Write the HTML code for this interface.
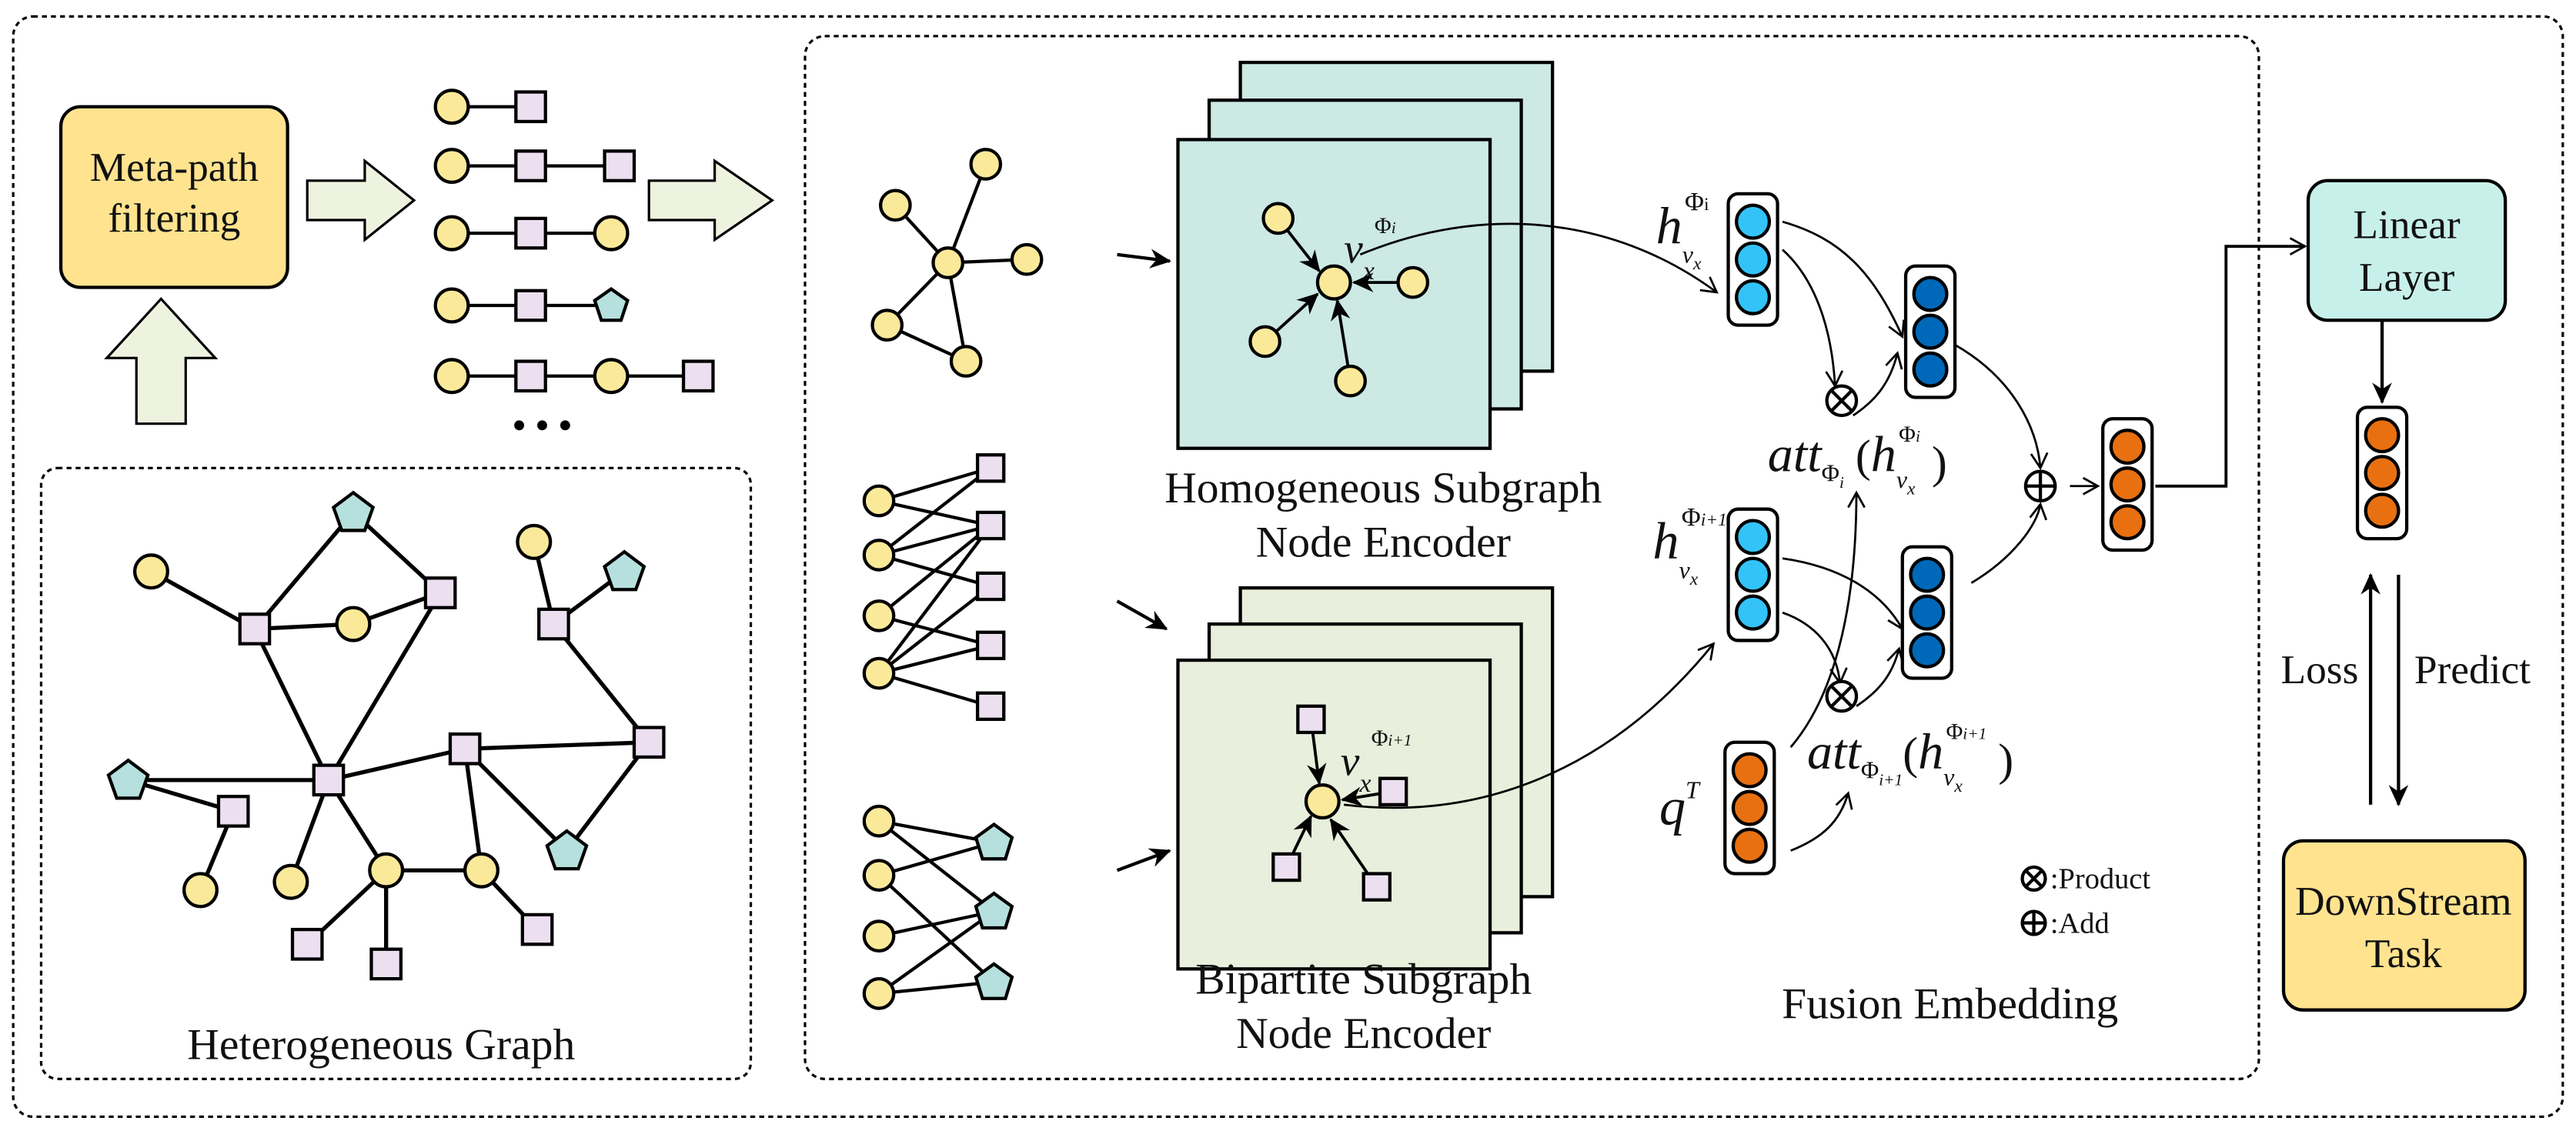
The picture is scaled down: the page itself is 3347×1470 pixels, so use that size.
<!DOCTYPE html>
<html><head><meta charset="utf-8"><style>
html,body{margin:0;padding:0;background:#fff}
svg{display:block}
text{font-family:"Liberation Serif","Times New Roman",serif;fill:#111}
</style></head><body>
<svg width="3347" height="1470" viewBox="0 0 1568 688.7" xmlns="http://www.w3.org/2000/svg" font-family="Liberation Serif, serif">
<defs>
<marker id="a" markerWidth="12" markerHeight="12" refX="10" refY="6" orient="auto" markerUnits="userSpaceOnUse"><path d="M1,1 L10,6 L1,11" fill="none" stroke="#000" stroke-width="1.3"/></marker>
<marker id="f" markerWidth="14" markerHeight="14" refX="12" refY="7" orient="auto" markerUnits="userSpaceOnUse"><path d="M0,1 L13,7 L0,13 L4,7 Z" fill="#000"/></marker>
</defs>
<g fill="none" stroke="#000" stroke-width="1.5" stroke-dasharray="3,2.5">
<rect x="8" y="10" width="1552" height="670" rx="12"/>
<rect x="25" y="285" width="432" height="372" rx="10"/>
<rect x="490" y="22" width="885" height="635" rx="12"/>
</g>
<rect x="37" y="65" width="138" height="110" rx="12" fill="#ffe38f" stroke="#000" stroke-width="2"/>
<text x="106" y="110" font-size="25" text-anchor="middle">Meta-path</text>
<text x="106" y="141" font-size="25" text-anchor="middle">filtering</text>
<g fill="#eef3e0" stroke="#000" stroke-width="1.5">
<path d="M187,110 L222,110 L222,98 L252,122 L222,146 L222,134 L187,134 Z"/>
<path d="M395,110 L435,110 L435,98 L470,122 L435,146 L435,134 L395,134 Z"/>
<path d="M83,258 L83,218 L65,218 L98,182 L131,218 L113,218 L113,258 Z"/>
</g>
<g stroke="#000" stroke-width="2">
<line x1="275" y1="65" x2="323" y2="65"/><line x1="275" y1="101" x2="377" y2="101"/>
<line x1="275" y1="142" x2="372" y2="142"/><line x1="275" y1="186" x2="372" y2="186"/>
<line x1="275" y1="229" x2="425" y2="229"/>
</g>
<g stroke="#000" stroke-width="2" fill="#fbe99a">
<circle cx="275" cy="65" r="10"/><circle cx="275" cy="101" r="10"/><circle cx="275" cy="142" r="10"/><circle cx="275" cy="186" r="10"/><circle cx="275" cy="229" r="10"/>
<circle cx="372" cy="142" r="10"/><circle cx="372" cy="229" r="10"/>
</g>
<g stroke="#000" stroke-width="2" fill="#ecdff0">
<rect x="314" y="56" width="18" height="18"/><rect x="314" y="92" width="18" height="18"/><rect x="368" y="92" width="18" height="18"/>
<rect x="314" y="133" width="18" height="18"/><rect x="314" y="177" width="18" height="18"/><rect x="314" y="220" width="18" height="18"/><rect x="416" y="220" width="18" height="18"/>
</g>
<polygon points="372,176 382,183 378,195 366,195 362,183" fill="#b5e0de" stroke="#000" stroke-width="2"/>
<g fill="#000"><circle cx="316" cy="259" r="3"/><circle cx="330" cy="259" r="3"/><circle cx="344" cy="259" r="3"/></g>
<g stroke="#000" stroke-width="2.5">
<line x1="92" y1="348" x2="155" y2="383"/><line x1="155" y1="383" x2="215" y2="380"/><line x1="215" y1="380" x2="268" y2="361"/>
<line x1="155" y1="383" x2="215" y2="312"/><line x1="215" y1="312" x2="268" y2="361"/>
<line x1="155" y1="383" x2="200" y2="475"/><line x1="268" y1="361" x2="200" y2="475"/>
<line x1="325" y1="330" x2="337" y2="380"/><line x1="380" y1="348" x2="337" y2="380"/><line x1="337" y1="380" x2="395" y2="452"/>
<line x1="395" y1="452" x2="345" y2="518"/><line x1="283" y1="456" x2="345" y2="518"/><line x1="283" y1="456" x2="395" y2="452"/>
<line x1="200" y1="475" x2="283" y2="456"/><line x1="78" y1="475" x2="200" y2="475"/><line x1="78" y1="475" x2="142" y2="494"/>
<line x1="142" y1="494" x2="122" y2="542"/><line x1="200" y1="475" x2="177" y2="537"/><line x1="200" y1="475" x2="235" y2="530"/>
<line x1="235" y1="530" x2="187" y2="575"/><line x1="235" y1="530" x2="235" y2="587"/><line x1="235" y1="530" x2="293" y2="530"/>
<line x1="283" y1="456" x2="293" y2="530"/><line x1="293" y1="530" x2="327" y2="566"/>
</g>
<g stroke="#000" stroke-width="2" fill="#fbe99a">
<circle cx="92" cy="348" r="10"/><circle cx="215" cy="380" r="10"/><circle cx="325" cy="330" r="10"/><circle cx="177" cy="537" r="10"/>
<circle cx="235" cy="530" r="10"/><circle cx="293" cy="530" r="10"/><circle cx="122" cy="542" r="10"/>
</g>
<g stroke="#000" stroke-width="2" fill="#ecdff0">
<rect x="146" y="374" width="18" height="18"/><rect x="259" y="352" width="18" height="18"/><rect x="328" y="371" width="18" height="18"/>
<rect x="386" y="443" width="18" height="18"/><rect x="274" y="447" width="18" height="18"/><rect x="191" y="466" width="18" height="18"/>
<rect x="133" y="485" width="18" height="18"/><rect x="178" y="566" width="18" height="18"/><rect x="226" y="578" width="18" height="18"/><rect x="318" y="557" width="18" height="18"/>
</g>
<g stroke="#000" stroke-width="2" fill="#b5e0de">
<polygon points="215,300 227,309 222,323 208,323 203,309"/><polygon points="380,336 392,345 387,359 373,359 368,345"/>
<polygon points="78,463 90,472 85,486 71,486 66,472"/><polygon points="345,506 357,515 352,529 338,529 333,515"/>
</g>
<text x="232" y="645" font-size="27" text-anchor="middle">Heterogeneous Graph</text>
<g stroke="#000" stroke-width="2">
<line x1="545" y1="125" x2="577" y2="160"/><line x1="600" y1="100" x2="577" y2="160"/><line x1="577" y1="160" x2="625" y2="158"/>
<line x1="577" y1="160" x2="540" y2="198"/><line x1="577" y1="160" x2="588" y2="220"/><line x1="540" y1="198" x2="588" y2="220"/>
<line x1="535" y1="305" x2="603" y2="285"/><line x1="535" y1="305" x2="603" y2="320"/><line x1="535" y1="338" x2="603" y2="320"/>
<line x1="535" y1="338" x2="603" y2="357"/><line x1="535" y1="375" x2="603" y2="320"/><line x1="535" y1="410" x2="603" y2="320"/>
<line x1="535" y1="410" x2="603" y2="357"/><line x1="535" y1="410" x2="603" y2="393"/><line x1="535" y1="410" x2="603" y2="430"/>
<line x1="535" y1="375" x2="603" y2="393"/><line x1="535" y1="338" x2="603" y2="285"/>
<line x1="535" y1="500" x2="605" y2="513"/><line x1="535" y1="533" x2="605" y2="513"/><line x1="535" y1="533" x2="605" y2="598"/>
<line x1="535" y1="570" x2="605" y2="555"/><line x1="535" y1="605" x2="605" y2="555"/><line x1="535" y1="605" x2="605" y2="598"/><line x1="535" y1="500" x2="605" y2="555"/>
</g>
<g stroke="#000" stroke-width="2" fill="#fbe99a">
<circle cx="600" cy="100" r="9"/><circle cx="545" cy="125" r="9"/><circle cx="577" cy="160" r="9"/><circle cx="625" cy="158" r="9"/><circle cx="540" cy="198" r="9"/><circle cx="588" cy="220" r="9"/>
<circle cx="535" cy="305" r="9"/><circle cx="535" cy="338" r="9"/><circle cx="535" cy="375" r="9"/><circle cx="535" cy="410" r="9"/>
<circle cx="535" cy="500" r="9"/><circle cx="535" cy="533" r="9"/><circle cx="535" cy="570" r="9"/><circle cx="535" cy="605" r="9"/>
</g>
<g stroke="#000" stroke-width="2" fill="#ecdff0">
<rect x="595" y="277" width="16" height="16"/><rect x="595" y="312" width="16" height="16"/><rect x="595" y="349" width="16" height="16"/><rect x="595" y="385" width="16" height="16"/><rect x="595" y="422" width="16" height="16"/>
</g>
<g stroke="#000" stroke-width="2" fill="#b5e0de">
<polygon points="605,502 616,510 612,523 598,523 594,510"/><polygon points="605,544 616,552 612,565 598,565 594,552"/><polygon points="605,587 616,595 612,608 598,608 594,595"/>
</g>
<g stroke="#000" stroke-width="2">
<line x1="680" y1="155" x2="712" y2="159" marker-end="url(#f)"/><line x1="680" y1="366" x2="710" y2="383" marker-end="url(#f)"/><line x1="680" y1="530" x2="712" y2="518" marker-end="url(#f)"/>
</g>
<g stroke="#000" stroke-width="2" fill="#cce9e4">
<rect x="755" y="38" width="190" height="188"/><rect x="736" y="61" width="190" height="188"/><rect x="717" y="85" width="190" height="188"/>
</g>
<g stroke="#000" stroke-width="2" fill="#e8efdc">
<rect x="755" y="358" width="190" height="188"/><rect x="736" y="380" width="190" height="188"/><rect x="717" y="402" width="190" height="188"/>
</g>
<g stroke="#000" stroke-width="1.8">
<line x1="778" y1="133" x2="803" y2="165" marker-end="url(#f)"/><line x1="770" y1="208" x2="802" y2="179" marker-end="url(#f)"/>
<line x1="822" y1="232" x2="814" y2="183" marker-end="url(#f)"/><line x1="860" y1="172" x2="824" y2="172" marker-end="url(#f)"/>
<line x1="798" y1="438" x2="803" y2="477" marker-end="url(#f)"/><line x1="848" y1="482" x2="817" y2="487" marker-end="url(#f)"/>
<line x1="783" y1="528" x2="798" y2="497" marker-end="url(#f)"/><line x1="838" y1="540" x2="810" y2="499" marker-end="url(#f)"/>
</g>
<g stroke="#000" stroke-width="2" fill="#fbe99a">
<circle cx="812" cy="172" r="10"/><circle cx="778" cy="133" r="9"/><circle cx="770" cy="208" r="9"/><circle cx="822" cy="232" r="9"/><circle cx="860" cy="172" r="9"/>
<circle cx="805" cy="488" r="10"/>
</g>
<g stroke="#000" stroke-width="2" fill="#ecdff0">
<rect x="790" y="430" width="16" height="16"/><rect x="840" y="474" width="16" height="16"/><rect x="775" y="520" width="16" height="16"/><rect x="830" y="532" width="16" height="16"/>
</g>
<text x="818" y="160" font-size="26" font-style="italic">v<tspan font-size="16" dy="10">x</tspan><tspan font-size="14" dy="-28" font-style="normal">Φ</tspan><tspan font-size="10">i</tspan></text>
<text x="816" y="472" font-size="26" font-style="italic">v<tspan font-size="16" dy="10">x</tspan><tspan font-size="14" dy="-28" font-style="normal">Φ</tspan><tspan font-size="10">i+1</tspan></text>
<text x="842" y="306" font-size="27" text-anchor="middle">Homogeneous Subgraph</text>
<text x="842" y="339" font-size="27" text-anchor="middle">Node Encoder</text>
<text x="830" y="605" font-size="27" text-anchor="middle">Bipartite Subgraph</text>
<text x="830" y="638" font-size="27" text-anchor="middle">Node Encoder</text>
<g fill="none" stroke="#000" stroke-width="1.3">
<path d="M828,155 C900,125 980,130 1045,178" marker-end="url(#a)"/>
<path d="M818,490 C900,500 980,470 1043,392" marker-end="url(#a)"/>
<path d="M1085,152 C1105,170 1115,200 1117,235" marker-end="url(#a)"/>
<path d="M1085,135 C1120,145 1140,165 1158,205" marker-end="url(#a)"/>
<path d="M1128,253 C1140,245 1150,235 1155,215" marker-end="url(#a)"/>
<path d="M1190,210 C1225,230 1240,260 1242,285" marker-end="url(#a)"/>
<path d="M1200,355 C1225,340 1240,320 1242,307" marker-end="url(#a)"/>
<path d="M1260,296 L1277,296" marker-end="url(#a)"/>
<path d="M1085,340 C1120,345 1145,360 1158,383" marker-end="url(#a)"/>
<path d="M1085,373 C1105,380 1118,395 1120,416" marker-end="url(#a)"/>
<path d="M1130,430 C1145,420 1152,410 1156,395" marker-end="url(#a)"/>
<path d="M1090,455 C1120,420 1130,360 1130,300" marker-end="url(#a)"/>
<path d="M1090,518 C1110,510 1120,500 1125,483" marker-end="url(#a)"/>
</g>
<g stroke="#000" stroke-width="2">
<rect x="1052" y="118" width="30" height="80" rx="6" fill="#fff"/>
<rect x="1160" y="162" width="30" height="80" rx="6" fill="#fff"/>
<rect x="1052" y="310" width="30" height="80" rx="6" fill="#fff"/>
<rect x="1158" y="333" width="30" height="80" rx="6" fill="#fff"/>
<rect x="1050" y="452" width="30" height="80" rx="6" fill="#fff"/>
<rect x="1280" y="255" width="30" height="80" rx="6" fill="#fff"/>
<rect x="1435" y="248" width="30" height="80" rx="6" fill="#fff"/>
<g fill="#33c3f8"><circle cx="1067" cy="135" r="10"/><circle cx="1067" cy="158" r="10"/><circle cx="1067" cy="181" r="10"/>
<circle cx="1067" cy="327" r="10"/><circle cx="1067" cy="350" r="10"/><circle cx="1067" cy="373" r="10"/></g>
<g fill="#0068b8"><circle cx="1175" cy="179" r="10"/><circle cx="1175" cy="202" r="10"/><circle cx="1175" cy="225" r="10"/>
<circle cx="1173" cy="350" r="10"/><circle cx="1173" cy="373" r="10"/><circle cx="1173" cy="396" r="10"/></g>
<g fill="#e87010"><circle cx="1065" cy="469" r="10"/><circle cx="1065" cy="492" r="10"/><circle cx="1065" cy="515" r="10"/>
<circle cx="1295" cy="272" r="10"/><circle cx="1295" cy="295" r="10"/><circle cx="1295" cy="318" r="10"/>
<circle cx="1450" cy="265" r="10"/><circle cx="1450" cy="288" r="10"/><circle cx="1450" cy="311" r="10"/></g>
</g>
<g stroke="#000" stroke-width="2" fill="#fff">
<circle cx="1121" cy="244" r="9"/><path d="M1115,238 L1127,250 M1127,238 L1115,250"/>
<circle cx="1121" cy="424" r="9"/><path d="M1115,418 L1127,430 M1127,418 L1115,430"/>
<circle cx="1242" cy="296" r="9"/><path d="M1233,296 L1251,296 M1242,287 L1242,305"/>
<circle cx="1238" cy="535" r="7"/><path d="M1233,530 L1243,540 M1243,530 L1233,540"/>
<circle cx="1238" cy="562" r="7"/><path d="M1231,562 L1245,562 M1238,555 L1238,569"/>
</g>
<text x="1248" y="541" font-size="18">:Product</text>
<text x="1248" y="568" font-size="18">:Add</text>
<g font-style="italic">
<text x="1008" y="148" font-size="32">h<tspan font-size="15" dy="12">v</tspan><tspan font-size="11" dy="4">x</tspan><tspan font-size="16" dy="-36" dx="-10" font-style="normal">Φ</tspan><tspan font-size="11" font-style="normal">i</tspan></text>
<text x="1006" y="340" font-size="32">h<tspan font-size="15" dy="12">v</tspan><tspan font-size="11" dy="4">x</tspan><tspan font-size="16" dy="-36" dx="-10" font-style="normal">Φ</tspan><tspan font-size="11">i+1</tspan></text>
<text x="1010" y="502" font-size="32">q<tspan font-size="15" dy="-16">T</tspan></text>
<text x="1076" y="287" font-size="31">att<tspan font-size="15" dy="6" font-style="normal">Φ</tspan><tspan font-size="10" dy="4">i</tspan><tspan font-style="normal" dy="-10" font-size="28"> (</tspan>h<tspan font-size="15" dy="10">v</tspan><tspan font-size="11" dy="4">x</tspan><tspan font-size="14" dy="-32" dx="-10" font-style="normal">Φ</tspan><tspan font-size="10">i</tspan><tspan font-style="normal" font-size="28" dy="22"> )</tspan></text>
<text x="1100" y="468" font-size="31">att<tspan font-size="15" dy="6" font-style="normal">Φ</tspan><tspan font-size="10" dy="4">i+1</tspan><tspan font-style="normal" dy="-10" font-size="28">(</tspan>h<tspan font-size="15" dy="10">v</tspan><tspan font-size="11" dy="4">x</tspan><tspan font-size="14" dy="-32" dx="-10" font-style="normal">Φ</tspan><tspan font-size="10">i+1</tspan><tspan font-style="normal" font-size="28" dy="22"> )</tspan></text>
</g>
<text x="1187" y="620" font-size="27" text-anchor="middle">Fusion Embedding</text>
<path d="M1312,296 L1355,296 L1355,150 L1403,150" fill="none" stroke="#000" stroke-width="1.8" marker-end="url(#a)"/>
<rect x="1405" y="110" width="120" height="85" rx="12" fill="#c8f0ea" stroke="#000" stroke-width="2"/>
<text x="1465" y="145" font-size="25" text-anchor="middle">Linear</text>
<text x="1465" y="177" font-size="25" text-anchor="middle">Layer</text>
<g stroke="#000" stroke-width="2">
<line x1="1450" y1="195" x2="1450" y2="245" marker-end="url(#f)"/>
<line x1="1443" y1="490" x2="1443" y2="350" marker-end="url(#f)"/>
<line x1="1460" y1="350" x2="1460" y2="490" marker-end="url(#f)"/>
</g>
<text x="1412" y="416" font-size="25" text-anchor="middle">Loss</text>
<text x="1505" y="416" font-size="25" text-anchor="middle">Predict</text>
<rect x="1390" y="512" width="147" height="103" rx="12" fill="#ffe38f" stroke="#000" stroke-width="2"/>
<text x="1463" y="557" font-size="25" text-anchor="middle">DownStream</text>
<text x="1463" y="589" font-size="25" text-anchor="middle">Task</text>
</svg>
</body></html>
